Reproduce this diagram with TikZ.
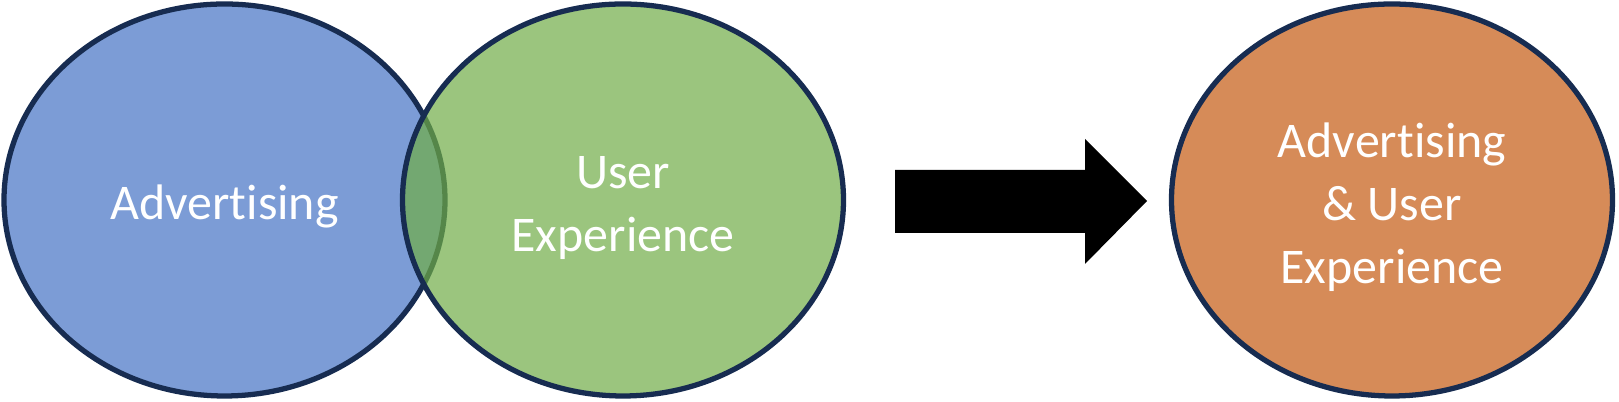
\documentclass[tikz,border=0pt]{standalone}
\usepackage{fontspec}
\setmainfont{Carlito}[Ligatures={NoCommon,NoContextual}]
\usetikzlibrary{shapes.geometric}
\begin{document}
\begin{tikzpicture}[x=1cm,y=1cm,
  bubble/.style={ellipse, draw=VennEdge, line width=1.5pt, fill opacity=0.7, minimum width=4.41cm, minimum height=3.92cm, inner sep=0pt},
  words/.style={text=white, align=center, inner sep=0pt, font=\fontsize{14.2}{17.9}\selectfont}]
\definecolor{VennEdge}{HTML}{172C51}
\definecolor{VennBlue}{HTML}{4472C4}
\definecolor{VennGreen}{HTML}{70AD47}
\definecolor{VennOrange}{HTML}{C55A11}
\useasboundingbox (0,0) rectangle (16.19,4.02);
\node[bubble, fill=VennBlue] (adv) at (2.245,2.02) {};
\node[bubble, fill=VennGreen] (ux) at (6.23,2.02) {};
\node[words] (advtext) at ([yshift=-0.06cm]adv.center) {Advertising};
\node[words] (uxtext) at ([yshift=-0.08cm]ux.center) {User\\Experience};
\fill (8.95,1.69) -- (10.85,1.69) -- (10.85,1.38) -- (11.47,2.01) -- (10.85,2.63) -- (10.85,2.32) -- (8.95,2.32) -- cycle;
\node[bubble, fill=VennOrange] (both) at (13.92,2.02) {};
\node[words] (bothtext) at ([yshift=-0.07cm]both.center) {Advertising\\\& User\\Experience};
\end{tikzpicture}
\end{document}
